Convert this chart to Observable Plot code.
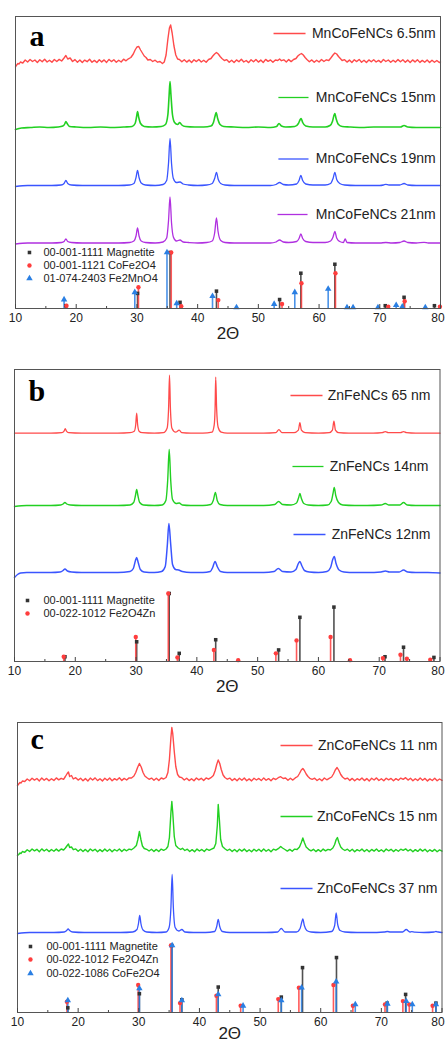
<!DOCTYPE html>
<html><head><meta charset="utf-8">
<script src="https://cdn.jsdelivr.net/npm/d3@7"></script>
<script src="https://cdn.jsdelivr.net/npm/@observablehq/plot@0.6"></script>
<style>body{margin:0;background:#fff;} svg{display:block;}</style>
</head><body><div id="chart"></div>
<script>
// ---------- axis ----------
const xTicksMajor = [10,20,30,40,50,60,70,80];
const xTicksMinor = [15,25,35,45,55,65,75];
const axisTitle = "2Θ";
const panelLetters = ["a","b","c"];

// ---------- panel a : patterns [2θ, intensity] ----------
const a_labels = ["MnCoFeNCs 6.5nm","MnCoFeNCs 15nm","MnCoFeNCs 19nm","MnCoFeNCs 21nm"];
const a_6_5nm = [[10,-6],[10.2,-4],[10.4,-2.5],[10.6,-3],[10.8,-1],[11.2,-2],[11.6,1],[12,-1],[12.4,1.5],[12.8,-0.5],[13.2,1],[13.6,-1.5],[14,1.2],[14.4,-0.8],[14.8,1.8],[15.2,-1],[15.6,0.8],[16,-1.2],[16.4,1.5],[16.8,-0.5],[17.2,1.6],[17.6,0],[18,3],[18.3,5.5],[18.6,2],[19,3],[19.4,-0.5],[19.8,1.4],[20.2,-1.3],[20.6,1],[21,-1.6],[21.4,0.9],[21.8,-0.7],[22.2,1.7],[22.6,-1.2],[23,0.6],[23.4,-1.5],[23.8,1.3],[24.2,-0.9],[24.6,1.1],[25,-1.4],[25.4,1.6],[25.8,-0.6],[26.2,1.2],[26.6,-1.3],[27,0.7],[27.4,-1],[27.8,1.8],[28.2,0.2],[28.6,2.2],[29,3.5],[29.4,7],[29.7,11],[30,14],[30.3,14.5],[30.6,11],[30.9,8],[31.2,5],[31.5,3.5],[31.8,1],[32.2,1.5],[32.6,-0.5],[33,0.8],[33.4,-1.2],[33.8,-0.5],[34.2,-2.5],[34.5,-1],[34.8,6],[35.1,22],[35.35,33],[35.55,36],[35.8,28],[36.1,15],[36.4,6],[36.7,2],[37,1.5],[37.4,-0.8],[37.8,1.2],[38.2,-1.1],[38.6,0.9],[39,-1.5],[39.4,1.3],[39.8,-0.6],[40.2,1.6],[40.6,-1],[41,0.7],[41.4,-1.3],[41.8,1.5],[42.2,2.5],[42.5,5],[42.8,7],[43.1,8.5],[43.4,7],[43.7,4.5],[44,2.5],[44.4,0.5],[44.8,1.3],[45.2,-1.2],[45.6,0.8],[46,-1.4],[46.4,1.1],[46.8,-0.7],[47.2,1.7],[47.6,-1],[48,0.5],[48.4,-1.6],[48.8,1.2],[49.2,-0.8],[49.6,1.4],[50,-1.1],[50.4,0.9],[50.8,-1.5],[51.2,1.6],[51.6,-0.4],[52,1.1],[52.4,-1.2],[52.8,1],[53.2,0.5],[53.5,2],[53.8,0.3],[54.2,1.2],[54.6,-1],[55,1.4],[55.4,-0.6],[55.8,1.5],[56.2,2.5],[56.5,5],[56.8,6.5],[57.1,7.5],[57.4,6],[57.7,3.5],[58,1.5],[58.4,-0.7],[58.8,1.1],[59.2,-1.3],[59.6,0.8],[60,-1],[60.4,1.5],[60.8,-0.5],[61.2,1.2],[61.6,0.5],[62,3.5],[62.3,6],[62.6,8],[62.9,7],[63.2,4.5],[63.5,2.5],[63.8,0.5],[64.2,1.3],[64.6,-1.1],[65,0.9],[65.4,-1.4],[65.8,1.2],[66.2,-0.6],[66.6,1.6],[67,-1.2],[67.4,0.7],[67.8,-1.5],[68.2,1.1],[68.6,-0.8],[69,1.3],[69.4,-1],[69.8,0.6],[70.2,-1.4],[70.6,1.5],[71,-0.5],[71.4,1],[71.8,-1.3],[72.2,0.8],[72.6,-1.1],[73,1.4],[73.4,-0.7],[73.8,1.2],[74.2,-1.2],[74.6,0.9],[75,-1.5],[75.4,1.1],[75.8,-0.9],[76.2,1.3],[76.6,-1.4],[77,0.6],[77.4,-1.2],[77.8,1],[78.2,-1.6],[78.6,0.7],[79,-1.3],[79.4,0.5],[79.8,-1.5],[80,-1]];
const a_15nm = [[10,-2],[11,-0.5],[12.5,0],[14,0.5],[15.5,0],[17,0.5],[17.8,1.5],[18.15,4],[18.3,6],[18.5,4],[18.9,1],[20,0.5],[22,0],[24,0.5],[26,0],[28,0.5],[29.2,1],[29.7,4],[29.95,11],[30.1,16],[30.3,10],[30.6,4],[31.2,1],[32.5,0.5],[34,1],[34.7,3],[35.1,13],[35.3,32],[35.45,46],[35.6,33],[35.85,13],[36.2,5],[36.7,3],[37.05,5],[37.4,2.5],[38,1],[39.5,0.5],[41,0.5],[42.2,1.5],[42.6,5],[42.85,11],[43.05,15],[43.3,9],[43.7,3],[44.3,1],[46,0.5],[48,0],[50,0.5],[52,0],[53,1],[53.4,4],[53.8,1.5],[54.5,0.5],[56,1],[56.6,4],[56.9,8],[57.05,9],[57.3,5],[57.8,1.5],[59,0.5],[61,0.5],[61.8,2],[62.2,6],[62.45,12],[62.6,14],[62.8,9],[63.2,3],[63.8,1],[65,0.5],[67,0],[69,0.5],[71,0.5],[73.4,0.5],[74,2],[74.6,0.5],[76,0],[78,0],[80,0]];
const a_19nm = [[10,-1],[12,0],[14,0],[16,0],[17.5,0.5],[18,2],[18.3,5],[18.6,2],[19.2,0.5],[21,0],[23,0],[25,0],[27,0],[28.8,0.5],[29.5,2],[29.85,8],[30.1,15],[30.35,8],[30.7,2.5],[31.4,0.5],[33,0],[34.3,1],[34.9,5],[35.2,22],[35.45,47],[35.7,22],[36,7],[36.5,3],[37.1,3.5],[37.6,1.5],[38.5,0.5],[40,0],[41.5,0.5],[42.4,2],[42.8,7],[43.1,13],[43.4,6],[43.8,2],[44.5,0.5],[46,0],[48,0],[50,0],[52,0],[52.9,1],[53.5,3],[54.1,1],[55,0.5],[56.3,1.5],[56.7,5],[57,10],[57.3,5],[57.8,1.5],[59,0.5],[61,0.5],[61.9,2],[62.3,7],[62.6,13],[62.9,6],[63.4,2],[64.2,0.5],[66,0],[68,0],[70,0],[70.6,0.5],[71,1.2],[71.5,0.5],[73.3,0.5],[74,2],[74.6,0.5],[76,0],[78,0],[80,0]];
const a_21nm = [[10,-1],[12,0],[14,0],[16,0],[17.6,0.5],[18,1.5],[18.3,4],[18.6,1.5],[19.2,0.5],[21,0],[23,0],[25,0],[27,0],[28.8,0.5],[29.5,2],[29.85,7],[30.1,15],[30.35,7],[30.7,2],[31.4,0.5],[33,0],[34.3,1],[34.9,5],[35.2,22],[35.45,46],[35.7,20],[36,6],[36.5,2],[37.1,3],[37.6,1],[38.5,0.5],[40,0],[41.5,0.5],[42.4,2],[42.8,10],[43.1,25],[43.35,12],[43.8,2.5],[44.5,0.5],[46,0],[48,0],[50,0],[52,0],[52.9,1],[53.5,3],[54.1,1],[55,0.5],[56.3,1.5],[56.7,4.5],[57,9],[57.3,4.5],[57.8,1.5],[59,0.5],[61,0.5],[61.9,2],[62.3,6],[62.6,11.5],[62.9,5],[63.4,1.5],[64,0.5],[64.3,4],[64.6,0.5],[66,0],[68,0],[70,0],[71,0.5],[72,0],[73.3,0.5],[74,2],[74.6,0.5],[76,0],[77.3,0.7],[78,0],[80,0]];
// reference cards, panel a [2θ, relative intensity %]
const a_refLabels = ["00-001-1111 Magnetite","00-001-1121 CoFe2O4","01-074-2403 Fe2MnO4"];
const a_magnetite = [[18.3,5],[30.1,27],[35.45,100],[37.1,11],[43.1,31],[53.5,16],[57.0,63],[62.6,79],[70.9,5],[74.0,20],[79.0,5]];
const a_cofe2o4 = [[18.4,5],[30.25,38],[35.65,100],[37.3,4],[43.4,15],[53.9,8],[57.1,45],[62.7,63],[71.4,3],[74.1,13],[79.9,3]];
const a_fe2mno4 = [[18.0,16],[29.65,29],[34.95,100],[36.55,9],[42.45,22],[46.4,2],[52.6,8],[56.0,29],[61.5,35],[64.6,2],[65.6,2],[69.7,2],[72.7,6],[73.7,3],[77.5,2]];

// ---------- panel b ----------
const b_labels = ["ZnFeNCs 65 nm","ZnFeNCs 14nm","ZnFeNCs 12nm"];
const b_65nm = [[10,0],[12,0],[14,0],[16,0],[17.8,0.5],[18.15,2],[18.35,4.5],[18.55,2],[18.9,0.5],[21,0],[23,0],[25,0],[27,0],[29,0.5],[29.7,2],[29.95,9],[30.1,20],[30.25,9],[30.5,2],[31,0.5],[33,0],[34.5,0.5],[35.1,5],[35.35,25],[35.5,58],[35.65,25],[35.9,5],[36.5,1],[37.1,3],[37.5,0.5],[39,0],[41,0],[42.5,1],[42.85,8],[43,25],[43.1,56],[43.25,25],[43.5,6],[44,1],[45,0],[47,0],[49,0],[51,0],[53,0.5],[53.5,3.5],[54,0.5],[56,0.5],[56.7,3],[56.95,10.5],[57.2,3],[57.8,0.5],[60,0],[61.8,0.5],[62.3,3],[62.55,12],[62.8,3],[63.3,0.5],[65,0],[67,0],[69,0],[70.5,0.5],[71,1.5],[71.5,0.5],[73.5,0.5],[74,1.5],[74.5,0.5],[76,0],[78,0],[80,0]];
const b_14nm = [[10,-1],[12,0],[14,0],[16,0],[17.6,0.5],[18,1.5],[18.3,3],[18.6,1.5],[19.2,0.5],[21,0],[23,0],[25,0],[27,0],[29,0.5],[29.6,3],[29.9,10],[30.1,16],[30.3,10],[30.6,3],[31.2,0.5],[33,0],[34.3,0.5],[34.9,5],[35.2,25],[35.45,56],[35.7,25],[36,6],[36.6,2],[37.1,2.5],[37.6,0.5],[39,0],[41,0],[42.3,1],[42.7,5],[43.05,13],[43.35,5],[43.8,1],[45,0],[47,0],[49,0],[51,0],[52.8,1],[53.45,4],[54.1,1],[55.5,0.5],[56.4,2.5],[56.75,8],[56.95,12],[57.2,7],[57.6,2],[58.3,0.5],[60,0],[61.5,0.5],[62.1,4],[62.4,12],[62.6,18],[62.85,10],[63.3,3],[64,0.5],[66,0],[68,0],[70.3,0.5],[71,2],[71.6,0.5],[73.4,0.5],[74,3],[74.6,0.5],[76,0],[78,0],[80,0]];
const b_12nm = [[10,-5],[10.5,-2],[11,-0.5],[12,0],[14,0],[16,0],[17.5,0.5],[18,2],[18.3,3.5],[18.7,1.5],[19.4,0.5],[21,0],[23,0],[25,0],[27,0],[29,1],[29.55,4],[29.9,12],[30.1,15],[30.35,10],[30.7,3],[31.3,0.5],[33,0],[34.2,1],[34.8,6],[35.15,28],[35.4,49],[35.7,28],[36,8],[36.5,3],[37,2.5],[37.6,1],[39,0],[41,0],[42.2,1],[42.6,5],[43,11],[43.35,6],[43.9,1],[45,0],[47,0],[49,0],[51,0],[52.7,1],[53.4,4],[54.1,1],[55.5,0.5],[56.3,3],[56.7,9],[56.95,11],[57.25,7],[57.7,2],[58.5,0.5],[60,0],[61.4,1],[62,5],[62.35,13],[62.6,16],[62.9,9],[63.4,2.5],[64.2,0.5],[66,0],[68,0],[70.3,0.5],[71,1.5],[71.7,0.5],[73.3,0.5],[74,2.5],[74.7,0.5],[76,0],[78,0],[80,-0.5]];
const b_refLabels = ["00-001-1111 Magnetite","00-022-1012 Fe2O4Zn"];
const b_magnetite = [[18.3,7],[30.1,29],[35.45,100],[37.1,12],[43.1,32],[53.45,17],[56.95,65],[62.55,80],[70.95,7],[74.0,21],[79.0,6]];
const b_fe2o4zn = [[18.1,7],[29.95,36],[35.3,100],[36.8,6],[42.8,17],[46.8,2],[53.0,12],[56.4,31],[62.0,36],[65.2,2],[70.6,5],[73.5,10],[74.55,4],[78.4,2.5]];

// ---------- panel c ----------
const c_labels = ["ZnCoFeNCs 11 nm","ZnCoFeNCs 15 nm","ZnCoFeNCs 37 nm"];
const c_11nm = [[10,-6],[10.2,-4.5],[10.4,-3],[10.6,-3.5],[10.8,-1.5],[11.2,-2],[11.6,0.5],[12,-1.2],[12.4,1.3],[12.8,-0.6],[13.2,1],[13.6,-1.4],[14,1.5],[14.4,-0.7],[14.8,1.1],[15.2,-1.3],[15.6,0.8],[16,-0.9],[16.4,1.6],[16.8,-0.4],[17.2,1.2],[17.6,0.2],[17.9,3],[18.2,6],[18.4,7.5],[18.6,3],[18.9,4],[19.2,0.5],[19.6,1.8],[20,-0.6],[20.4,1.3],[20.8,-1.2],[21.2,0.9],[21.6,-1.5],[22,1.4],[22.4,-0.5],[22.8,1.6],[23.2,-1.1],[23.6,0.7],[24,-1.4],[24.4,1.2],[24.8,-0.8],[25.2,1.5],[25.6,-1.2],[26,0.9],[26.4,-0.6],[26.8,1.7],[27.2,-0.9],[27.6,1.1],[28,-0.5],[28.4,1.6],[28.8,1.5],[29.2,3.5],[29.5,7],[29.8,12],[30.1,16],[30.4,12.5],[30.7,7],[31,3.5],[31.3,2],[31.7,0.2],[32.1,1.4],[32.5,-0.8],[32.9,1.2],[33.3,-1],[33.7,1.5],[34.1,0.5],[34.5,2],[34.8,7],[35.05,20],[35.3,42],[35.45,52],[35.6,46],[35.85,28],[36.1,13],[36.4,5],[36.7,2.5],[37.1,1.8],[37.5,-0.5],[37.9,1.3],[38.3,-1.1],[38.7,0.8],[39.1,-1.3],[39.5,1.5],[39.9,-0.4],[40.3,1.2],[40.7,-1],[41.1,1.6],[41.5,0.3],[41.9,1.8],[42.3,4],[42.6,9],[42.85,15],[43.1,19.5],[43.35,16],[43.6,10],[43.9,4.5],[44.2,2],[44.6,0.3],[45,1.4],[45.4,-1],[45.8,0.9],[46.2,-1.3],[46.6,1.2],[47,-0.7],[47.4,1.5],[47.8,-1.2],[48.2,0.6],[48.6,-1.4],[49,1.3],[49.4,-0.5],[49.8,1.1],[50.2,-1.1],[50.6,1.6],[51,-0.8],[51.4,0.9],[51.8,-1.3],[52.2,1.2],[52.6,0],[53,1.8],[53.4,2.8],[53.8,1],[54.2,1.5],[54.6,-0.8],[55,1.2],[55.4,-0.6],[55.8,1.6],[56.2,3],[56.5,6],[56.8,9.5],[57.05,11],[57.3,9],[57.6,5.5],[57.9,3],[58.2,1.2],[58.6,0.2],[59,1.3],[59.4,-1],[59.8,0.8],[60.2,-1.2],[60.6,1.5],[61,-0.3],[61.4,1.2],[61.8,2.5],[62.1,5.5],[62.4,9.5],[62.7,12],[63,9],[63.3,5],[63.6,2.5],[64,0.5],[64.4,1.4],[64.8,-0.9],[65.2,1.1],[65.6,-1.3],[66,0.8],[66.4,-0.6],[66.8,1.5],[67.2,-1.1],[67.6,0.9],[68,-1.4],[68.4,1.2],[68.8,-0.5],[69.2,1.6],[69.6,-1],[70,0.7],[70.4,-1.3],[70.8,1.3],[71.2,-0.4],[71.6,1.1],[72,-1.2],[72.4,0.9],[72.8,-0.8],[73.2,1.4],[73.6,0.2],[74,1.8],[74.4,-0.6],[74.8,1.2],[75.2,-1.3],[75.6,0.8],[76,-1],[76.4,1.5],[76.8,-0.7],[77.2,1.1],[77.6,-1.4],[78,0.6],[78.4,-1],[78.8,1.2],[79.2,-1.3],[79.6,0.5],[80,-0.8]];
const c_15nm = [[10,-5],[10.2,-4],[10.4,-2.5],[10.6,-3],[10.8,-1],[11.2,-1.8],[11.6,0.8],[12,-1],[12.4,1.5],[12.8,-0.4],[13.2,1.2],[13.6,-1.2],[14,1.6],[14.4,-0.5],[14.8,1.3],[15.2,-1.1],[15.6,1],[16,-0.7],[16.4,1.4],[16.8,-0.6],[17.2,1.5],[17.6,0.5],[17.9,2.5],[18.2,5],[18.4,6.5],[18.6,3],[18.9,3.5],[19.2,0.8],[19.6,1.6],[20,-0.8],[20.4,1.2],[20.8,-1],[21.2,1.1],[21.6,-1.3],[22,1.5],[22.4,-0.4],[22.8,1.3],[23.2,-1.2],[23.6,0.9],[24,-1.1],[24.4,1.4],[24.8,-0.7],[25.2,1.2],[25.6,-1.3],[26,1],[26.4,-0.5],[26.8,1.5],[27.2,-1],[27.6,1.2],[28,-0.3],[28.4,1.4],[28.8,0.8],[29.2,2.5],[29.6,5],[29.85,11],[30.1,19],[30.35,11],[30.6,4.5],[30.9,2],[31.3,1.2],[31.7,-0.5],[32.1,1.3],[32.5,-0.9],[32.9,1.1],[33.3,-1.1],[33.7,1.4],[34.1,0.2],[34.5,1.5],[34.8,4],[35.05,13],[35.3,38],[35.45,49],[35.6,38],[35.85,14],[36.1,5],[36.5,2.5],[36.9,1],[37.2,2.2],[37.6,0],[38,1.3],[38.4,-1],[38.8,0.9],[39.2,-1.2],[39.6,1.4],[40,-0.5],[40.4,1.1],[40.8,-1.1],[41.2,1.5],[41.6,0.2],[42,1.4],[42.4,2.5],[42.7,7],[42.95,25],[43.1,46],[43.3,30],[43.5,11],[43.8,4],[44.2,1.8],[44.6,0],[45,1.3],[45.4,-0.9],[45.8,1],[46.2,-1.2],[46.6,1.3],[47,-0.6],[47.4,1.4],[47.8,-1.1],[48.2,0.7],[48.6,-1.3],[49,1.2],[49.4,-0.6],[49.8,1.2],[50.2,-1],[50.6,1.5],[51,-0.7],[51.4,1],[51.8,-1.2],[52.2,1.3],[52.6,0.3],[53,1.8],[53.4,4],[53.7,2.5],[54.1,1],[54.5,-0.6],[54.9,1.1],[55.3,-0.8],[55.7,1.4],[56.1,1],[56.5,3.5],[56.8,8],[57.05,12.5],[57.3,8],[57.6,3.5],[58,1.2],[58.4,-0.4],[58.8,1.2],[59.2,-1.1],[59.6,0.9],[60,-1],[60.4,1.4],[60.8,-0.4],[61.2,1.1],[61.6,0.5],[62,2.5],[62.3,6],[62.55,11],[62.75,13],[63,8],[63.3,3.5],[63.6,1.5],[64,0],[64.4,1.3],[64.8,-0.8],[65.2,1.2],[65.6,-1.2],[66,0.9],[66.4,-0.5],[66.8,1.4],[67.2,-1],[67.6,1],[68,-1.3],[68.4,1.1],[68.8,-0.6],[69.2,1.5],[69.6,-0.9],[70,0.8],[70.4,-1.2],[70.8,1.4],[71.2,-0.3],[71.6,1.2],[72,-1.1],[72.4,1],[72.8,-0.7],[73.2,1.3],[73.6,0.2],[74,1.6],[74.4,-0.5],[74.8,1.1],[75.2,-1.2],[75.6,0.9],[76,-0.9],[76.4,1.4],[76.8,-0.6],[77.2,1.2],[77.6,-1.3],[78,0.7],[78.4,-0.9],[78.8,1.1],[79.2,-1.2],[79.6,0.6],[80,-0.6]];
const c_37nm = [[10,-1],[12,0],[14,0],[16,0],[17.7,0.5],[18.1,2],[18.35,3.5],[18.6,2],[19.1,0.5],[21,0],[23,0],[25,0],[27,0],[29,0.5],[29.7,3],[29.95,9],[30.15,17],[30.35,9],[30.7,2.5],[31.3,0.5],[33,0],[34.5,0.5],[35,5],[35.3,25],[35.5,58],[35.7,25],[36,5],[36.6,1.5],[37.1,3],[37.6,0.5],[39,0],[41,0],[42.5,1],[42.85,6],[43.1,13],[43.35,6],[43.8,1],[45,0],[47,0],[49,0],[51,0],[52.9,0.5],[53.5,4],[54.1,0.5],[56,0.5],[56.6,4],[56.9,11],[57.05,13.5],[57.3,7],[57.7,2],[58.4,0.5],[60,0],[61.8,1],[62.3,7],[62.55,19.5],[62.8,8],[63.2,2],[64,0.5],[66,0],[68,0],[70.5,0.5],[71,1],[71.5,0.5],[73.5,0.5],[74.1,3],[74.7,0.5],[75,0.8],[75.5,0.3],[77,0],[78.7,0.5],[79,1],[79.4,0.5],[80,0]];
const c_refLabels = ["00-001-1111 Magnetite","00-022-1012 Fe2O4Zn","00-022-1086 CoFe2O4"];
const c_magnetite = [[18.3,7],[30.1,28],[35.45,100],[37.1,19],[43.1,38],[53.5,23],[57.0,67],[62.6,82],[70.95,14],[74.0,27],[79.0,14]];
const c_fe2o4zn = [[18.15,16],[29.9,41],[35.3,100],[36.8,14],[42.8,25],[46.8,10],[53.0,20],[56.4,37],[62.1,41],[65.3,10],[70.6,12],[73.55,17],[74.6,12],[78.45,10]];
const c_cofe2o4 = [[18.3,18],[30.1,36],[35.5,100],[37.1,18],[43.1,27],[47.2,10],[53.5,18],[56.85,37],[62.55,46],[65.7,12],[71.0,13],[74.1,17],[75.1,12],[79.0,12]];

// ---------- styles ----------
const colRed = "#ff4a4a", colGreen = "#22d022", colBlue = "#3a55ff", colPurple = "#b030e0";
const refBlack = "#333333", refRed = "#ff3d3d", refBlue = "#2a7fe3";
const FONT = "'Liberation Sans', Arial, sans-serif";
const TXT = "#222";

function panel(cfg) {
  const marks = [];
  const H = cfg.frameH;
  for (const r of cfg.refs) {
    marks.push(Plot.ruleX(r.data, {x: d => d[0], y1: 0, y2: d => d[1] * cfg.refScale, stroke: r.color, strokeWidth: 1.6, strokeOpacity: 0.85}));
  }
  for (const r of cfg.refs) {
    marks.push(Plot.dot(r.data, {x: d => d[0], y: d => d[1] * cfg.refScale, symbol: r.symbol, fill: r.color, r: r.size}));
  }
  cfg.refs.forEach((r, i) => {
    marks.push(Plot.dot([r.label], {x: cfg.refLegX[0], y: cfg.refLegY[i], symbol: r.symbol, fill: r.color, r: r.size}));
    marks.push(Plot.text([r.label], {x: cfg.refLegX[1], y: cfg.refLegY[i], text: d => d, textAnchor: "start", lineAnchor: "middle", fontSize: 11, fill: TXT}));
  });
  for (const s of cfg.series) {
    marks.push(Plot.line(s.data, {x: d => d[0], y: d => d[1] + s.offset, stroke: s.color, strokeWidth: s.width, curve: s.noisy ? "linear" : "monotone-x", strokeLinejoin: "round"}));
  }
  cfg.series.forEach(s => {
    marks.push(Plot.link([s.label], {x1: s.leg[0], x2: s.leg[1], y1: s.leg[3], y2: s.leg[3], stroke: s.color, strokeWidth: 1.3}));
    marks.push(Plot.text([s.label], {x: s.leg[2], y: s.leg[3], text: d => d, textAnchor: "end", lineAnchor: "middle", fontSize: 14, fill: TXT}));
  });
  marks.push(Plot.frame({stroke: "#555", strokeWidth: 1}));
  marks.push(Plot.ruleX(xTicksMajor, {x: d => d, y1: 0, y2: 4, stroke: "#444"}));
  marks.push(Plot.ruleX(xTicksMinor, {x: d => d, y1: 0, y2: 2, stroke: "#444"}));
  const inner = xTicksMajor.slice(0, -1), last = xTicksMajor.slice(-1);
  marks.push(Plot.text(inner, {x: d => d, y: 0, text: d => String(d), lineAnchor: "top", dy: 5, fontSize: 12, fill: TXT}));
  marks.push(Plot.text(last, {x: d => d, y: 0, text: d => String(d), lineAnchor: "top", dy: 5, dx: Math.min(0, cfg.mRight - 7.5), fontSize: 12, fill: TXT}));
  marks.push(Plot.text([axisTitle], {frameAnchor: "bottom", dy: cfg.titleDy, lineAnchor: "middle", fontSize: 17, fill: TXT}));
  marks.push(Plot.text([cfg.letter], {frameAnchor: "top-left", dx: cfg.letterPos[0], dy: cfg.letterPos[1], lineAnchor: "bottom", textAnchor: "start", fontSize: 30, fontWeight: "bold", fontFamily: "'Liberation Serif', 'Times New Roman', serif", fill: "#000"}));
  return Plot.plot({
    width: 445,
    height: cfg.mTop + H + cfg.mBottom,
    marginTop: cfg.mTop, marginBottom: cfg.mBottom, marginLeft: cfg.mLeft, marginRight: cfg.mRight,
    x: {domain: [10, 80], axis: null},
    y: {domain: [0, H], axis: null},
    style: {fontFamily: FONT, background: "#fff", overflow: "visible"},
    marks
  });
}

const panels = [
  panel({
    letter: panelLetters[0], letterPos: [14, 29], titleDy: 25,
    frameH: 292, mTop: 16, mBottom: 35, mLeft: 15, mRight: 5,
    refScale: 0.56,
    refLegX: [12.3, 14.6], refLegY: [56, 43, 30],
    refs: [
      {data: a_magnetite, color: refBlack, symbol: "square", size: 2, label: a_refLabels[0]},
      {data: a_cofe2o4, color: refRed, symbol: "circle", size: 2.2, label: a_refLabels[1]},
      {data: a_fe2mno4, color: refBlue, symbol: "triangle", size: 2.4, label: a_refLabels[2]}
    ],
    series: [
      {data: a_6_5nm, offset: 247.5, color: colRed, width: 1.4, noisy: true, label: a_labels[0], leg: [52.5, 57.77, 79.2, 275]},
      {data: a_15nm, offset: 181, color: colGreen, width: 1.6, label: a_labels[1], leg: [53.3, 58.26, 79.2, 211]},
      {data: a_19nm, offset: 123, color: colBlue, width: 1.3, label: a_labels[2], leg: [53.3, 58.26, 79.2, 149.5]},
      {data: a_21nm, offset: 65.5, color: colPurple, width: 1.3, label: a_labels[3], leg: [53.16, 58.1, 79.2, 94]}
    ]
  }),
  panel({
    letter: panelLetters[1], letterPos: [14, 31], titleDy: 25,
    frameH: 292, mTop: 26, mBottom: 35, mLeft: 14, mRight: 5.5,
    refScale: 0.68,
    refLegX: [12.14, 14.77], refLegY: [61, 48],
    refs: [
      {data: b_magnetite, color: refBlack, symbol: "square", size: 2, label: b_refLabels[0]},
      {data: b_fe2o4zn, color: refRed, symbol: "circle", size: 2.2, label: b_refLabels[1]}
    ],
    series: [
      {data: b_65nm, offset: 228.3, color: colRed, width: 1.3, label: b_labels[0], leg: [55.4, 60.67, 78.43, 266]},
      {data: b_14nm, offset: 156, color: colGreen, width: 1.4, label: b_labels[1], leg: [55.73, 60.83, 78.1, 195]},
      {data: b_12nm, offset: 89, color: colBlue, width: 1.5, label: b_labels[2], leg: [55.9, 61.16, 78.43, 127]}
    ]
  }),
  panel({
    letter: panelLetters[2], letterPos: [13, 26], titleDy: 21,
    frameH: 290, mTop: 26, mBottom: 31, mLeft: 17, mRight: 3.5,
    refScale: 0.67,
    refLegX: [12.14, 14.78], refLegY: [66, 53, 39],
    refs: [
      {data: c_magnetite, color: refBlack, symbol: "square", size: 2, label: c_refLabels[0]},
      {data: c_fe2o4zn, color: refRed, symbol: "circle", size: 2.2, label: c_refLabels[1]},
      {data: c_cofe2o4, color: refBlue, symbol: "triangle", size: 2.4, label: c_refLabels[2]}
    ],
    series: [
      {data: c_11nm, offset: 233, color: colRed, width: 1.4, noisy: true, label: c_labels[0], leg: [53.37, 58.65, 79.26, 267]},
      {data: c_15nm, offset: 162, color: colGreen, width: 1.4, noisy: true, label: c_labels[1], leg: [53.37, 58.65, 79.26, 196]},
      {data: c_37nm, offset: 80, color: colBlue, width: 1.3, label: c_labels[2], leg: [53.37, 58.65, 79.26, 124]}
    ]
  })
];
const root = document.getElementById("chart");
for (const p of panels) root.appendChild(p);
</script></body></html>
